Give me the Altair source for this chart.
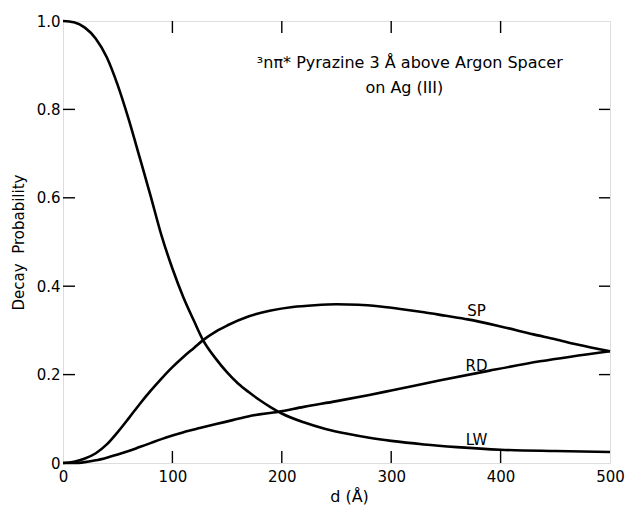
import altair as alt
import pandas as pd

# ---- data ----
d_lw = [0, 10, 20, 30, 40, 50, 60, 70, 80, 90, 100, 110, 120, 128, 140, 150, 160, 170, 180, 190,
        200, 220, 240, 260, 280, 300, 330, 360, 400, 450, 500]
lw = [1.0, 0.997, 0.985, 0.960, 0.918, 0.855, 0.778, 0.692, 0.605, 0.515, 0.440, 0.375, 0.320, 0.278,
      0.235, 0.205, 0.180, 0.160, 0.142, 0.126, 0.112, 0.092, 0.077, 0.066, 0.057, 0.050, 0.042,
      0.036, 0.030, 0.027, 0.025]

d_sp = [0, 10, 20, 30, 40, 50, 60, 70, 80, 90, 100, 110, 120, 128, 140, 150, 170, 190, 210, 230,
        250, 270, 290, 310, 330, 350, 370, 400, 430, 450, 470, 500]
sp = [0.0, 0.003, 0.010, 0.022, 0.042, 0.070, 0.101, 0.133, 0.163, 0.191, 0.217, 0.240, 0.261, 0.278,
      0.298, 0.311, 0.332, 0.345, 0.353, 0.357, 0.359, 0.358, 0.354, 0.348, 0.341, 0.333, 0.325,
      0.309, 0.291, 0.280, 0.268, 0.253]

d_rd = [0, 10, 20, 30, 40, 50, 60, 70, 80, 90, 100, 115, 125, 140, 155, 170, 197, 220, 250, 280,
        300, 345, 390, 436, 500]
rd = [0.0, 0.0, 0.002, 0.006, 0.012, 0.019, 0.027, 0.036, 0.045, 0.054, 0.062, 0.073, 0.079, 0.088,
      0.097, 0.106, 0.116, 0.127, 0.140, 0.154, 0.164, 0.187, 0.209, 0.230, 0.253]

x_ticks = [0, 100, 200, 300, 400, 500]
y_ticks = [0, 0.2, 0.4, 0.6, 0.8, 1.0]

curve_labels = ["SP", "RD", "LW"]
curve_label_x = [378, 378, 378]
curve_label_y = [0.344, 0.219, 0.052]

note_lines = ["\u00b3n\u03c0* Pyrazine 3 \u00c5 above Argon Spacer", "on Ag (III)"]
note_x = [317, 312]
note_y = [0.894, 0.837]

# ---- tables ----
curves = pd.concat([
    pd.DataFrame({"d": d_lw, "p": lw, "series": "LW"}),
    pd.DataFrame({"d": d_sp, "p": sp, "series": "SP"}),
    pd.DataFrame({"d": d_rd, "p": rd, "series": "RD"}),
])
labels_df = pd.DataFrame({"d": curve_label_x, "p": curve_label_y, "t": curve_labels})
note_df = pd.DataFrame({"d": note_x, "p": note_y, "t": note_lines})
xt_df = pd.DataFrame({"v": x_ticks[1:-1]})
yt_df = pd.DataFrame({"v": y_ticks[1:-1]})

W, H = 547, 442
FONT = "DejaVu Sans"

xscale = alt.Scale(domain=[0, 500], nice=False)
yscale = alt.Scale(domain=[0, 1], nice=False)

xaxis = alt.Axis(values=x_ticks, ticks=False, domain=False, grid=False, labelFontSize=15,
                 labelColor="black", labelPadding=6, labelFont=FONT, labelFlush=False,
                 title="d\u00a0(\u00c5)", titleFontSize=16, titleFont=FONT, titleFontWeight="normal",
                 titleColor="black", titleX=286, titleY=38, titleBaseline="alphabetic",
                 titleAlign="center")
yaxis = alt.Axis(values=y_ticks, ticks=False, domain=False, grid=False, labelFontSize=15,
                 labelColor="black", labelPadding=3, labelFont=FONT, labelFlush=False,
                 labelExpr="datum.value == 0 ? '0' : format(datum.value, '.1f')",
                 title="Decay\u00a0\u00a0Probability", titleFontSize=15, titleFont=FONT,
                 titleFontWeight="normal", titleColor="black", titleX=-45, titleY=221,
                 titleAngle=270, titleBaseline="middle", titleAlign="center")

lines = alt.Chart(curves).mark_line(color="black", strokeWidth=2.6, interpolate="monotone").encode(
    x=alt.X("d:Q", scale=xscale, axis=xaxis),
    y=alt.Y("p:Q", scale=yscale, axis=yaxis),
    detail="series:N",
)

lbls = alt.Chart(labels_df).mark_text(fontSize=15, font=FONT, color="black", baseline="middle",
                                      align="center").encode(
    x=alt.X("d:Q", scale=xscale), y=alt.Y("p:Q", scale=yscale), text="t:N")

notes = alt.Chart(note_df).mark_text(fontSize=16, font=FONT, color="black", baseline="alphabetic",
                                     align="center").encode(
    x=alt.X("d:Q", scale=xscale), y=alt.Y("p:Q", scale=yscale), text="t:N")

tick_style = dict(color="black", strokeWidth=1.4)
xt_bottom = alt.Chart(xt_df).mark_rule(**tick_style).encode(
    x=alt.X("v:Q", scale=xscale), y=alt.value(H), y2=alt.value(H - 12))
xt_top = alt.Chart(xt_df).mark_rule(**tick_style).encode(
    x=alt.X("v:Q", scale=xscale), y=alt.value(0), y2=alt.value(12))
yt_left = alt.Chart(yt_df).mark_rule(**tick_style).encode(
    y=alt.Y("v:Q", scale=yscale), x=alt.value(0), x2=alt.value(12))
yt_right = alt.Chart(yt_df).mark_rule(**tick_style).encode(
    y=alt.Y("v:Q", scale=yscale), x=alt.value(W), x2=alt.value(W - 11))

chart = alt.layer(lines, xt_bottom, xt_top, yt_left, yt_right, lbls, notes).properties(
    width=W, height=H,
    autosize=alt.AutoSizeParams(type="none"),
    padding={"left": 63, "top": 21, "right": 19, "bottom": 42},
    background="white",
).configure_view(stroke="black", strokeWidth=1.5).configure(font=FONT)

chart.save("out.html", embed_options={"renderer": "svg", "actions": False})
